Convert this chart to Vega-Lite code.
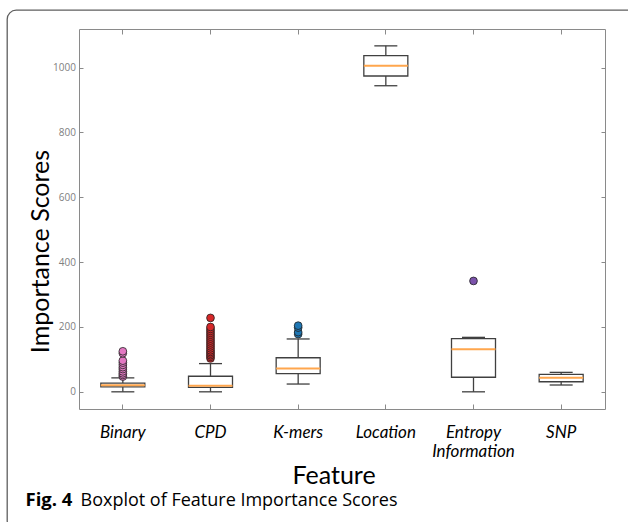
{
  "$schema": "https://vega.github.io/schema/vega-lite/v6.json",
  "width": 630,
  "height": 520,
  "autosize": {"type": "none"},
  "padding": {"left": 7, "top": 10, "right": 0, "bottom": 0},
  "background": "white",
  "config": {
    "view": {"stroke": "#5f5f5f", "strokeWidth": 1.3, "cornerRadius": 9, "fill": "white"},
    "axis": {
      "grid": false,
      "domainColor": "#8a8a8a",
      "tickColor": "#8a8a8a",
      "labelColor": "#808080",
      "labelFont": "Open Sans",
      "titleFont": "Lato",
      "titleFontWeight": "normal",
      "titleColor": "black"
    }
  },
  "datasets": {
    "boxes": [
      {"feature": "Binary", "lower": 0, "q1": 15, "median": 20, "q3": 27, "upper": 43},
      {"feature": "CPD", "lower": 0, "q1": 13.5, "median": 19, "q3": 48, "upper": 87},
      {"feature": "K-mers", "lower": 24, "q1": 56, "median": 72, "q3": 105, "upper": 163},
      {"feature": "Location", "lower": 944, "q1": 974, "median": 1006, "q3": 1037, "upper": 1067},
      {"feature": "Entropy Information", "lower": 0, "q1": 45, "median": 131, "q3": 164, "upper": 168},
      {"feature": "SNP", "lower": 21, "q1": 31, "median": 43, "q3": 54, "upper": 60}
    ],
    "outliers": [
      {"feature": "Binary", "score": 47}, {"feature": "Binary", "score": 52}, {"feature": "Binary", "score": 57},
      {"feature": "Binary", "score": 63}, {"feature": "Binary", "score": 70}, {"feature": "Binary", "score": 76},
      {"feature": "Binary", "score": 83}, {"feature": "Binary", "score": 90}, {"feature": "Binary", "score": 96},
      {"feature": "Binary", "score": 119}, {"feature": "Binary", "score": 125},
      {"feature": "CPD", "score": 103}, {"feature": "CPD", "score": 108}, {"feature": "CPD", "score": 113},
      {"feature": "CPD", "score": 118}, {"feature": "CPD", "score": 123}, {"feature": "CPD", "score": 128},
      {"feature": "CPD", "score": 134}, {"feature": "CPD", "score": 140}, {"feature": "CPD", "score": 146},
      {"feature": "CPD", "score": 152}, {"feature": "CPD", "score": 158}, {"feature": "CPD", "score": 164},
      {"feature": "CPD", "score": 170}, {"feature": "CPD", "score": 176}, {"feature": "CPD", "score": 182},
      {"feature": "CPD", "score": 188}, {"feature": "CPD", "score": 194}, {"feature": "CPD", "score": 200},
      {"feature": "CPD", "score": 228},
      {"feature": "K-mers", "score": 178}, {"feature": "K-mers", "score": 184},
      {"feature": "K-mers", "score": 198}, {"feature": "K-mers", "score": 204},
      {"feature": "Entropy Information", "score": 342}
    ]
  },
  "layer": [
    {
      "data": {"name": "boxes"},
      "mark": {"type": "rule", "color": "#404040", "strokeWidth": 1.3},
      "encoding": {
        "x": {
          "field": "feature", "type": "nominal",
          "scale": {"type": "band", "domain": ["Binary", "CPD", "K-mers", "Location", "Entropy Information", "SNP"], "range": [72, 598], "paddingInner": 0, "paddingOuter": 0},
          "axis": {
            "orient": "bottom", "offset": -121, "title": "Feature",
            "titleFontSize": 25, "titleX": 326.5, "titleY": 74, "titleBaseline": "alphabetic", "titleAlign": "center", "titleAngle": 0,
            "labelAngle": 0, "labelFont": "Lato", "labelFontStyle": "italic", "labelFontSize": 17, "labelColor": "black",
            "labelBaseline": "alphabetic", "labelPadding": 33, "labelLineHeight": 19, "tickSize": -5,
            "labelExpr": "datum.value == 'Entropy Information' ? ['Entropy', 'Information'] : datum.value"
          }
        },
        "y": {
          "field": "lower", "type": "quantitative",
          "scale": {"domain": [-53, 1119], "range": [399, 19], "nice": false, "zero": false},
          "axis": {
            "orient": "left", "offset": -72, "title": "Importance Scores",
            "titleFontSize": 25, "titleX": -31, "titleY": 241, "titleBaseline": "alphabetic", "titleAlign": "center", "titleAngle": -90,
            "values": [0, 200, 400, 600, 800, 1000], "format": "d", "labelFontSize": 10, "labelPadding": 7.6, "tickSize": -4
          }
        },
        "y2": {"field": "q1"}
      }
    },
    {
      "data": {"name": "boxes"},
      "mark": {"type": "rule", "color": "#404040", "strokeWidth": 1.3},
      "encoding": {
        "x": {
          "field": "feature", "type": "nominal",
          "axis": {
            "orient": "top", "offset": -19, "labels": false, "tickSize": -5,
            "title": "Fig. 4", "titleFont": "Open Sans", "titleFontWeight": "bold", "titleFontSize": 18.5,
            "titleX": 18, "titleY": 476, "titleAlign": "left", "titleBaseline": "alphabetic", "titleAngle": 0
          }
        },
        "y": {
          "field": "q3", "type": "quantitative",
          "axis": {
            "orient": "right", "offset": -32, "labels": false, "tickSize": -4, "values": [0, 200, 400, 600, 800, 1000],
            "title": "Boxplot of Feature Importance Scores", "titleFont": "Open Sans", "titleFontWeight": "normal", "titleFontSize": 18,
            "titleX": -525, "titleY": 495, "titleAlign": "left", "titleBaseline": "alphabetic", "titleAngle": 0
          }
        },
        "y2": {"field": "upper"}
      }
    },
    {
      "data": {"name": "boxes"},
      "mark": {"type": "bar", "size": 44, "fill": "white", "stroke": "#404040", "strokeWidth": 1.3},
      "encoding": {
        "x": {"field": "feature", "type": "nominal", "axis": null},
        "y": {"field": "q1", "type": "quantitative", "axis": null},
        "y2": {"field": "q3"}
      }
    },
    {
      "data": {"name": "boxes"},
      "mark": {"type": "tick", "size": 44, "thickness": 2, "color": "#ffa64d", "opacity": 1},
      "encoding": {
        "x": {"field": "feature", "type": "nominal", "axis": null},
        "y": {"field": "median", "type": "quantitative", "axis": null}
      }
    },
    {
      "data": {"name": "boxes"},
      "mark": {"type": "tick", "size": 23, "thickness": 1.3, "color": "#404040", "opacity": 1},
      "encoding": {
        "x": {"field": "feature", "type": "nominal", "axis": null},
        "y": {"field": "lower", "type": "quantitative", "axis": null}
      }
    },
    {
      "data": {"name": "boxes"},
      "mark": {"type": "tick", "size": 23, "thickness": 1.3, "color": "#404040", "opacity": 1},
      "encoding": {
        "x": {"field": "feature", "type": "nominal", "axis": null},
        "y": {"field": "upper", "type": "quantitative", "axis": null}
      }
    },
    {
      "data": {"name": "outliers"},
      "mark": {"type": "point", "filled": true, "size": 60, "stroke": "#222222", "strokeWidth": 0.8, "opacity": 1},
      "encoding": {
        "x": {"field": "feature", "type": "nominal", "axis": null},
        "y": {"field": "score", "type": "quantitative", "axis": null},
        "fill": {
          "field": "feature", "type": "nominal", "legend": null,
          "scale": {"domain": ["Binary", "CPD", "K-mers", "Entropy Information"], "range": ["#e377c2", "#d62728", "#1f77b4", "#7b52ab"]}
        }
      }
    }
  ],
  "resolve": {"axis": {"x": "independent", "y": "independent"}}
}
